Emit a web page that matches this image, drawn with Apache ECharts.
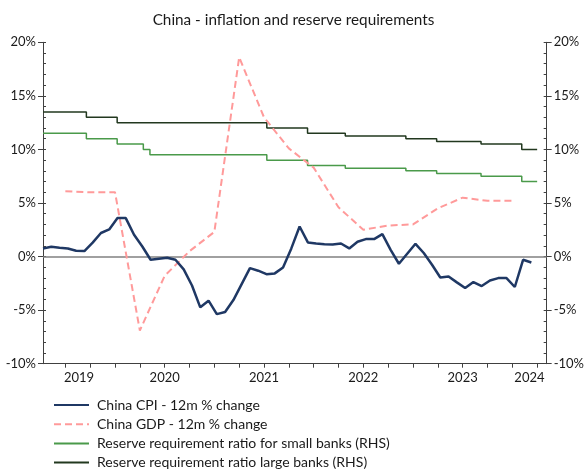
<!DOCTYPE html>
<html>
<head>
<meta charset="utf-8">
<script src="https://cdn.jsdelivr.net/npm/echarts@6/dist/echarts.min.js"></script>
<style>html,body{margin:0;padding:0;background:#fff;}#chart{width:587px;height:470px;}</style>
</head>
<body>
<div id="chart"></div>
<script>
// x unit: months since Jan 2019 (0 = 1 Jan 2019)
const titleText = 'China - inflation and reserve requirements';
const seriesNames = ['China CPI - 12m % change', 'China GDP - 12m % change',
  'Reserve requirement ratio for small banks (RHS)', 'Reserve requirement ratio large banks (RHS)'];

// CPI: monthly, first point Apr 2019
const cpiStartMonth = 3.3;
const cpiValues = [0.76, 0.91, 0.82, 0.76, 0.54, 0.51, 1.3, 2.2, 2.53, 3.59,
  3.59, 2.03, 0.94, -0.30, -0.2, -0.11, -0.3, -1.2, -2.7, -4.74,
  -4.12, -5.37, -5.18, -4.06, -2.57, -1.08, -1.32, -1.64, -1.57, -1.01,
  0.76, 2.81, 1.32, 1.22, 1.16, 1.13, 1.22, 0.76, 1.38, 1.63,
  1.63, 2.1, 0.63, -0.67, 0.26, 1.19, 0.33, -0.76, -1.95, -1.86,
  -2.41, -2.94, -2.38, -2.75, -2.23, -2.01, -2.01, -2.84, -0.3, -0.55];

// GDP: quarterly
const gdpMonths = [6, 9, 12, 15, 18, 21, 24, 27, 30, 33, 36, 39, 42, 45, 48, 51, 54, 57, 60];
const gdpValues = [6.1, 6.0, 6.0, -6.9, -1.8, 0.5, 2.3, 18.6, 13.0, 10.1, 8.3, 4.6, 2.5, 2.9, 3.0, 4.5, 5.5, 5.2, 5.2];

// Reserve requirement ratios (step series)
const rrrStart = 3.3, rrrEnd = 63.0;
const smallChangeMonths = [8.54, 12.26, 15.42, 16.22, 30.34, 35.26, 39.82, 47.14, 50.86, 56.22, 61.14];
const smallLevels = [11.5, 11.0, 10.5, 10.0, 9.5, 9.0, 8.5, 8.25, 8.0, 7.75, 7.5, 7.0];
const largeChangeMonths = [8.54, 12.26, 30.34, 35.26, 39.82, 47.14, 50.86, 56.22, 61.14];
const largeLevels = [13.5, 13.0, 12.5, 12.0, 11.5, 11.25, 11.0, 10.75, 10.5, 10.0];

// axis
const xMin = 3.3, xMax = 64.15;
const xTickMonths = [6, 9, 12, 15, 18, 21, 24, 27, 30, 33, 36, 39, 42, 45, 48, 51, 54, 57, 60, 63];
const xLabelMonths = [7.65, 18, 30, 42, 54, 62.07];
const xLabelTexts = ['2019', '2020', '2021', '2022', '2023', '2024'];
const yMin = -10, yMax = 20, yStep = 5;

const cpiData = cpiValues.map((v, i) => [cpiStartMonth + i, v]);
const gdpData = gdpMonths.map((m, i) => [m, gdpValues[i]]);
function stepData(changes, levels) {
  const d = [[rrrStart, levels[0]]];
  changes.forEach((m, i) => d.push([m, levels[i + 1]]));
  d.push([rrrEnd, levels[levels.length - 1]]);
  return d;
}

const FONT = 'Lato';
const txt = '#1a1a1a';
const axisCol = '#404040';

function yAx(pos, labels) {
  return {
    type: 'value', position: pos, min: yMin, max: yMax, interval: yStep,
    axisLine: { show: labels, lineStyle: { color: axisCol, width: 1 } },
    axisTick: { show: labels, length: 5, lineStyle: { color: axisCol } },
    axisLabel: { show: labels, formatter: '{value}%', color: txt, fontFamily: FONT, fontSize: 13, margin: 7 },
    splitLine: { show: false }
  };
}
function yMinor(pos) {
  return {
    type: 'value', position: pos, min: yMin, max: yMax, interval: 1,
    axisLine: { show: false },
    axisTick: { show: true, inside: true, length: 3, lineStyle: { color: axisCol } },
    axisLabel: { show: false }, splitLine: { show: false }
  };
}

const chart = echarts.init(document.getElementById('chart'), null, { renderer: 'canvas' });
chart.setOption({
  animation: false,
  backgroundColor: '#fff',
  title: {
    text: titleText, left: 'center', top: 8,
    textStyle: { fontFamily: FONT, fontSize: 15.3, fontWeight: 'normal', color: txt }
  },
  grid: { left: 43, right: 37, top: 42.3, bottom: 106.3, containLabel: false },
  xAxis: {
    type: 'value', min: xMin, max: xMax,
    axisLine: { onZero: false, lineStyle: { color: axisCol, width: 1 } },
    axisTick: { show: true, customValues: xTickMonths, length: 4, lineStyle: { color: axisCol } },
    axisLabel: {
      customValues: xLabelMonths, color: txt, fontFamily: FONT, fontSize: 13, margin: 8,
      formatter: function (v) {
        let best = 0;
        xLabelMonths.forEach((m, i) => { if (Math.abs(m - v) < Math.abs(xLabelMonths[best] - v)) best = i; });
        return xLabelTexts[best];
      }
    },
    splitLine: { show: false }
  },
  yAxis: [yAx('left', true), yAx('right', true), yMinor('left'), yMinor('right')],
  legend: {
    orient: 'vertical', left: 48, top: 393, height: 90, itemWidth: 35, itemHeight: 14, itemGap: 5.2,
    itemStyle: { opacity: 0 },
    textStyle: { fontFamily: FONT, fontSize: 14, color: txt, padding: [0, 0, 0, 3] },
    data: seriesNames
  },
  series: [
    {
      name: seriesNames[2], type: 'line', yAxisIndex: 1, data: stepData(smallChangeMonths, smallLevels),
      step: 'end', showSymbol: false, symbol: 'none',
      lineStyle: { color: '#4a9a4a', width: 1.5 }, itemStyle: { color: '#4a9a4a' }, z: 2
    },
    {
      name: seriesNames[3], type: 'line', yAxisIndex: 1, data: stepData(largeChangeMonths, largeLevels),
      step: 'end', showSymbol: false, symbol: 'none',
      lineStyle: { color: '#22381f', width: 1.5 }, itemStyle: { color: '#22381f' }, z: 2
    },
    {
      name: seriesNames[1], type: 'line', yAxisIndex: 0, data: gdpData,
      showSymbol: false, symbol: 'none',
      lineStyle: { color: '#ff9a9a', width: 2, type: [7, 4] }, itemStyle: { color: '#ff9a9a' }, z: 3
    },
    {
      name: seriesNames[0], type: 'line', yAxisIndex: 0, data: cpiData,
      showSymbol: false, symbol: 'none',
      lineStyle: { color: '#1f3864', width: 2.5 }, itemStyle: { color: '#1f3864' }, z: 4,
      markLine: {
        silent: true, symbol: ['none', 'none'], label: { show: false },
        lineStyle: { color: '#808080', width: 1.5, type: 'solid' },
        data: [{ yAxis: 0 }], z: 1
      }
    }
  ]
});
</script>
</body>
</html>
